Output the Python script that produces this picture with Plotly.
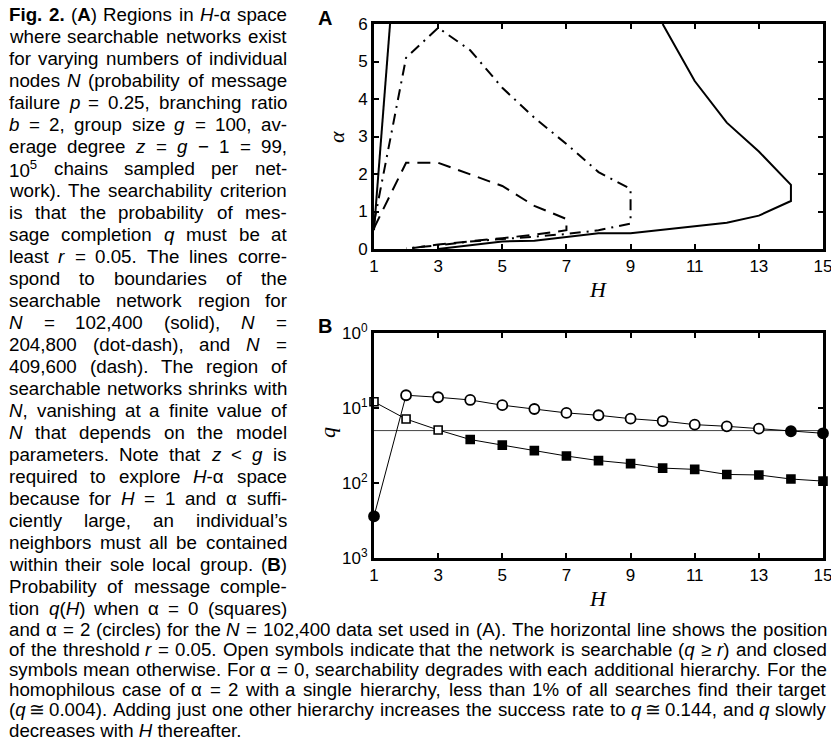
import glob
import plotly.graph_objects as go

# ---------------- data: panel A (boundaries of searchable region) ----------------
SOLID_H = [1, 2, None, 3, 4, 5, 6, 7, 8, 9, 10, 11, 12, 13, 14, 14, 13, 12, 11, 10]
SOLID_ALPHA = [0.5, 11.5, None, 0.0, 0.1, 0.2, 0.22, 0.32, 0.42, 0.42, 0.52, 0.61, 0.7,
               0.89, 1.28, 1.71, 2.6, 3.37, 4.48, 6.0]
DOTDASH_H = [1, 2, 3, 4, 5, 6, 7, 8, 9, 9, 8, 7, 6, 5, 4, 3, 2]
DOTDASH_ALPHA = [0.7, 5.1, 5.9, 5.3, 4.3, 3.5, 2.8, 2.05, 1.6, 0.68, 0.5, 0.4, 0.33,
                 0.27, 0.2, 0.1, 0.02]
DASH_H = [1, 2, 3, 4, 5, 6, 7, 7, 6, 5, 4, 3, 2]
DASH_ALPHA = [0.56, 2.3, 2.3, 2.0, 1.68, 1.15, 0.8, 0.5, 0.38, 0.29, 0.2, 0.12, 0.0]

# ---------------- data: panel B ----------------
H_B = list(range(1, 16))
Q_ALPHA0 = [0.121, 0.0713, 0.051, 0.038, 0.032, 0.027, 0.0229, 0.0199, 0.0181,
            0.0158, 0.0152, 0.0130, 0.0128, 0.0113, 0.0106]
Q_ALPHA2 = [0.0036, 0.148, 0.139, 0.128, 0.109, 0.097, 0.086, 0.080, 0.072,
            0.067, 0.060, 0.057, 0.053, 0.049, 0.046]
R_THRESHOLD = 0.05

X_TICKS = [1, 3, 5, 7, 9, 11, 13, 15]
A_Y_TICKS = [0, 1, 2, 3, 4, 5, 6]
B_Y_TICKS = [0.001, 0.01, 0.1, 1]
B_Y_TICKTEXT = ["10<sup>3</sup>", "10<sup>2</sup>", "10<sup>1</sup>", "10<sup>0</sup>"]

# ---------------- caption text ----------------
LEFT_LINES = [
    "*Fig.* *2.* (*A*) Regions in _H_-α space",
    "where searchable networks exist",
    "for varying numbers of individual",
    "nodes _N_ (probability of message",
    "failure _p_ = 0.25, branching ratio",
    "_b_ = 2, group size _g_ = 100, av-",
    "erage degree _z_ = _g_ − 1 = 99,",
    "10^{5} chains sampled per net-",
    "work). The searchability criterion",
    "is that the probability of mes-",
    "sage completion _q_ must be at",
    "least _r_ = 0.05. The lines corre-",
    "spond to boundaries of the",
    "searchable network region for",
    "_N_ = 102,400 (solid), _N_ =",
    "204,800 (dot-dash), and _N_ =",
    "409,600 (dash). The region of",
    "searchable networks shrinks with",
    "_N_, vanishing at a finite value of",
    "_N_ that depends on the model",
    "parameters. Note that _z_ < _g_ is",
    "required to explore _H_-α space",
    "because for _H_ = 1 and α suffi-",
    "ciently large, an individual’s",
    "neighbors must all be contained",
    "within their sole local group. (*B*)",
    "Probability of message comple-",
    "tion _q_(_H_) when α = 0 (squares)",
]
BOTTOM_LINES = [
    "and α = 2 (circles) for the _N_ = 102,400 data set used in (A). The horizontal line shows the position",
    "of the threshold _r_ = 0.05. Open symbols indicate that the network is searchable (_q_ ≥ _r_) and closed",
    "symbols mean otherwise. For α = 0, searchability degrades with each additional hierarchy. For the",
    "homophilous case of α = 2 with a single hierarchy, less than 1% of all searches find their target",
    "(_q_ ≅ 0.004). Adding just one other hierarchy increases the success rate to _q_ ≅ 0.144, and _q_ slowly",
    "decreases with _H_ thereafter.",
]

# ---------------- text metrics (Helvetica/Arial metrics, per 1000 em) ----------------
W_REG = {' ': 278, '!': 278, '%': 889, '&': 667, "'": 191, '(': 333, ')': 333, '+': 584,
         ',': 278, '-': 333, '.': 278, '/': 278, ':': 278, ';': 278, '<': 584, '=': 584,
         '>': 584, '?': 556, '’': 222, '−': 584, '≥': 549, '≅': 584, 'α': 578}
for c in '0123456789':
    W_REG[c] = 556
W_REG.update(dict(A=667, B=667, C=722, D=722, E=667, F=611, G=778, H=722, I=278, J=500,
                  K=667, L=556, M=833, N=722, O=778, P=667, Q=778, R=722, S=667, T=611,
                  U=722, V=667, W=944, X=667, Y=667, Z=611))
W_REG.update(dict(a=556, b=556, c=500, d=556, e=556, f=278, g=556, h=556, i=222, j=222,
                  k=500, l=222, m=833, n=556, o=556, p=556, q=556, r=333, s=500, t=278,
                  u=556, v=500, w=722, x=500, y=500, z=500))
W_BOLD = dict(W_REG)
W_BOLD.update({'A': 722, 'B': 722, 'F': 611, 'i': 278, 'g': 611, '.': 278, '2': 556})


def parse(word):
    segs, cur, ital, bold, sup = [], '', False, False, False
    i = 0
    while i < len(word):
        ch = word[i]
        if ch in '_*' or (ch == '^' and word[i + 1:i + 2] == '{') or (ch == '}' and sup):
            if cur:
                segs.append((cur, ital, bold, sup))
                cur = ''
            if ch == '_':
                ital = not ital
            elif ch == '*':
                bold = not bold
            elif ch == '^':
                sup = True
                i += 1
            else:
                sup = False
        else:
            cur += ch
        i += 1
    if cur:
        segs.append((cur, ital, bold, sup))
    return segs


def em_width(segs):
    tot = 0.0
    for txt, ital, bold, sup in segs:
        tab = W_BOLD if bold else W_REG
        w = sum(tab.get(c, 556) for c in txt) / 1000.0
        tot += w * (0.7 if sup else 1.0)
    return tot


def esc(t):
    return t.replace('&', '&amp;').replace('<', '&lt;').replace('>', '&gt;')


def to_html(segs):
    out = ''
    for txt, ital, bold, sup in segs:
        s = esc(txt)
        if sup:
            s = '<sup>' + s + '</sup>'
        if ital:
            s = '<i>' + s + '</i>'
        if bold:
            s = '<b>' + s + '</b>'
        out += s
    return out


FIG_W, FIG_H = 831, 741
SANS = "Liberation Sans"
narrow_files = glob.glob('/usr/share/fonts/**/LiberationSansNarrow*', recursive=True)
if narrow_files:
    NARROW, NARROW_F = "Liberation Sans Narrow", 0.82
else:
    NARROW, NARROW_F = "Liberation Sans", 1.0

annotations = []


def word_ann(segs, x, y, anchor, family, size):
    return dict(text=to_html(segs), x=x / FIG_W, y=1 - y / FIG_H, xref='paper',
                yref='paper', xanchor=anchor, yanchor='middle', showarrow=False,
                borderpad=0, borderwidth=0,
                font=dict(family=family, size=size, color='black'))


def place_block(lines, x0, x1, y0, dy, family, factor, justify_last):
    words_all = [[parse(w) for w in ln.split(' ')] for ln in lines]
    space = W_REG[' '] / 1000.0 * factor
    sizes = []
    for k, words in enumerate(words_all):
        if k == len(lines) - 1 and not justify_last:
            continue
        nat = sum(em_width(w) for w in words) * factor + space * (len(words) - 1)
        sizes.append((x1 - x0) / nat)
    size = min(sizes) * 0.99
    for k, words in enumerate(words_all):
        wpx = [em_width(w) * factor * size for w in words]
        last = (k == len(lines) - 1 and not justify_last)
        y = y0 + k * dy
        if len(words) > 1 and not last:
            gap = ((x1 - x0) - sum(wpx)) / (len(words) - 1)
            x = x0
            for j, (w, ww) in enumerate(zip(words, wpx)):
                if j == 0:
                    annotations.append(word_ann(w, x0, y, 'left', family, size))
                elif j == len(words) - 1:
                    annotations.append(word_ann(w, x1, y, 'right', family, size))
                else:
                    annotations.append(word_ann(w, x + ww / 2, y, 'center', family, size))
                x += ww + gap
        else:
            text = ' '.join(to_html(w) for w in words)
            annotations.append(dict(text=text, x=x0 / FIG_W, y=1 - y / FIG_H, xref='paper',
                                    yref='paper', xanchor='left', yanchor='middle',
                                    showarrow=False, borderpad=0, borderwidth=0,
                                    font=dict(family=family, size=size, color='black')))


place_block(LEFT_LINES, 9, 287, 15, 21.97, SANS, 1.0, True)
place_block(BOTTOM_LINES, 9, 827, 629, 20.2, NARROW, NARROW_F, False)

# ---------------- figure ----------------
fig = go.Figure()
fig.add_trace(go.Scatter(x=SOLID_H, y=SOLID_ALPHA, mode='lines', connectgaps=False,
                         line=dict(color='black', width=2), xaxis='x', yaxis='y',
                         name='N = 102,400'))
fig.add_trace(go.Scatter(x=DOTDASH_H, y=DOTDASH_ALPHA, mode='lines',
                         line=dict(color='black', width=2, dash='11px,6px,2px,6px'),
                         xaxis='x', yaxis='y', name='N = 204,800'))
fig.add_trace(go.Scatter(x=DASH_H, y=DASH_ALPHA, mode='lines',
                         line=dict(color='black', width=2, dash='13px,8px'),
                         xaxis='x', yaxis='y', name='N = 409,600'))

# threshold line
fig.add_trace(go.Scatter(x=[H_B[0], H_B[-1]], y=[R_THRESHOLD, R_THRESHOLD], mode='lines',
                         line=dict(color='#444444', width=1), xaxis='x2', yaxis='y2',
                         name='r'))
sq_fill = ['white' if q >= R_THRESHOLD else 'black' for q in Q_ALPHA0]
ci_fill = ['white' if q >= R_THRESHOLD else 'black' for q in Q_ALPHA2]
fig.add_trace(go.Scatter(x=H_B, y=Q_ALPHA0, mode='lines+markers', cliponaxis=False,
                         line=dict(color='black', width=1),
                         marker=dict(symbol='square', size=8, color=sq_fill,
                                     line=dict(color='black', width=1.6)),
                         xaxis='x2', yaxis='y2', name='α = 0'))
fig.add_trace(go.Scatter(x=H_B, y=Q_ALPHA2, mode='lines+markers', cliponaxis=False,
                         line=dict(color='black', width=1),
                         marker=dict(symbol='circle', size=10, color=ci_fill,
                                     line=dict(color='black', width=1.8)),
                         xaxis='x2', yaxis='y2', name='α = 2'))

XDOM = [374 / FIG_W, 823 / FIG_W]
A_DOM = [1 - 249 / FIG_H, 1 - 24 / FIG_H]
B_DOM = [1 - 558 / FIG_H, 1 - 333 / FIG_H]
tickfont = dict(family=SANS, size=17, color='black')
common = dict(showline=True, linecolor='black', linewidth=3, mirror='allticks',
              ticks='inside', ticklen=5, tickwidth=2, tickcolor='black',
              showgrid=False, zeroline=False, tickfont=tickfont, automargin=False)

fig.update_layout(
    width=FIG_W, height=FIG_H, margin=dict(l=0, r=0, t=0, b=0, pad=0, autoexpand=False),
    paper_bgcolor='white', plot_bgcolor='white', showlegend=False,
    xaxis=dict(domain=XDOM, anchor='y', range=[1, 15], tickvals=X_TICKS,
               ticklabeloverflow='allow', **common),
    yaxis=dict(domain=A_DOM, anchor='x', range=[0, 6], tickvals=A_Y_TICKS, **common),
    xaxis2=dict(domain=XDOM, anchor='y2', range=[1, 15], tickvals=X_TICKS,
                ticklabeloverflow='allow', **common),
    yaxis2=dict(domain=B_DOM, anchor='x2', type='log', range=[-3, 0], tickvals=B_Y_TICKS,
                ticktext=B_Y_TICKTEXT, **common),
)

serif_it = dict(family="Liberation Serif", size=22, color='black')
extra = [
    dict(text="<i>H</i>", x=598 / FIG_W, y=1 - 290 / FIG_H),
    dict(text="<i>H</i>", x=598 / FIG_W, y=1 - 598 / FIG_H),
    dict(text="<i>α</i>", x=337 / FIG_W, y=1 - 137 / FIG_H, textangle=-90),
    dict(text="<i>q</i>", x=327 / FIG_W, y=1 - 433 / FIG_H, textangle=-90),
]
for e in extra:
    e.update(xref='paper', yref='paper', xanchor='center', yanchor='middle',
             showarrow=False, font=serif_it)
    annotations.append(e)
for lab, yy in [("A", 18), ("B", 326)]:
    annotations.append(dict(text="<b>%s</b>" % lab, x=325 / FIG_W, y=1 - yy / FIG_H,
                            xref='paper', yref='paper', xanchor='center', yanchor='middle',
                            showarrow=False, font=dict(family=SANS, size=20, color='black')))

fig.update_layout(annotations=annotations)
fig.write_html("out.html", config={'displayModeBar': False},
               post_script="document.body.style.margin='0';"
                           "document.body.style.overflow='hidden';")
